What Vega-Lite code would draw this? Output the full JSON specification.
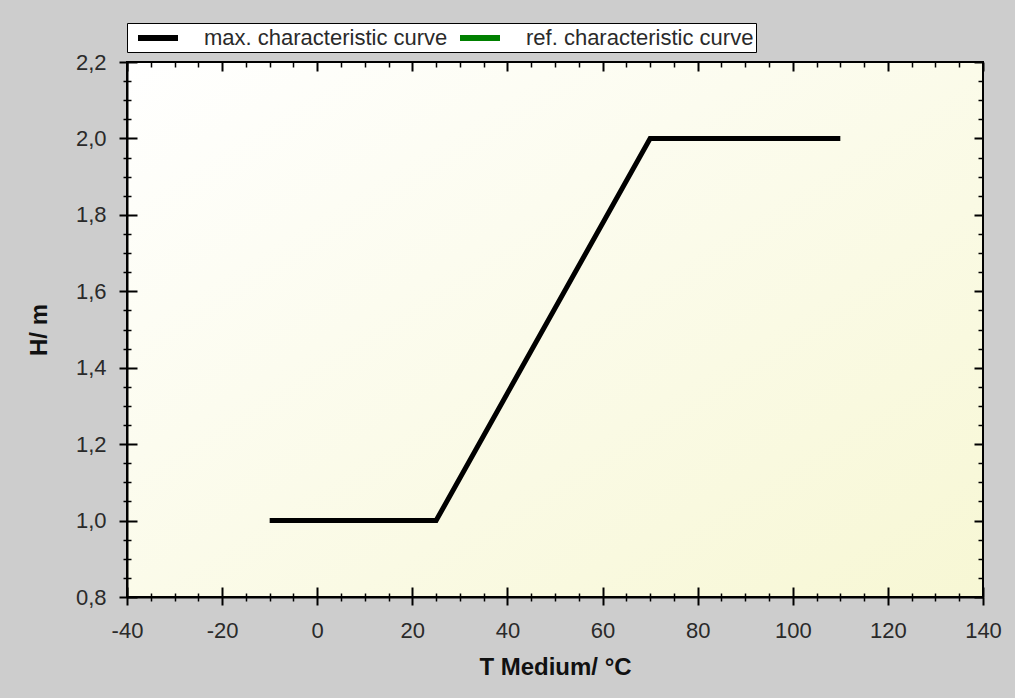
{
  "$schema": "https://vega.github.io/schema/vega-lite/v6.json",
  "autosize": {"type": "none"},
  "width": 856,
  "height": 535,
  "padding": {"left": 127, "top": 62, "right": 32, "bottom": 101},
  "background": "#cdcdcd",
  "data": {
    "values": [
      {"series": "max. characteristic curve", "T": -10, "H": 1.0},
      {"series": "max. characteristic curve", "T": 25, "H": 1.0},
      {"series": "max. characteristic curve", "T": 70, "H": 2.0},
      {"series": "max. characteristic curve", "T": 110, "H": 2.0}
    ]
  },
  "layer": [
    {
      "mark": {"type": "line", "strokeWidth": 5, "strokeCap": "butt"},
      "encoding": {
        "x": {
          "field": "T", "type": "quantitative",
          "scale": {"domain": [-40, 140], "nice": false, "zero": false},
          "axis": {
            "orient": "bottom", "title": "T Medium/ °C",
            "values": [-40,-35,-30,-25,-20,-15,-10,-5,0,5,10,15,20,25,30,35,40,45,50,55,60,65,70,75,80,85,90,95,100,105,110,115,120,125,130,135,140],
            "labelExpr": "datum.value % 20 == 0 ? toString(datum.value) : ''",
            "tickSize": {"condition": {"test": "datum.value % 20 == 0", "value": 8}, "value": 4},
            "tickWidth": {"condition": {"test": "datum.value % 20 == 0", "value": 2}, "value": 1.5},
            "labelPadding": 15, "titlePadding": 14
          }
        },
        "y": {
          "field": "H", "type": "quantitative",
          "scale": {"domain": [0.8, 2.2], "nice": false, "zero": false},
          "axis": {
            "orient": "left", "title": "H/ m",
            "values": [0.8,0.85,0.9,0.95,1.0,1.05,1.1,1.15,1.2,1.25,1.3,1.35,1.4,1.45,1.5,1.55,1.6,1.65,1.7,1.75,1.8,1.85,1.9,1.95,2.0,2.05,2.1,2.15,2.2],
            "labelExpr": "round(datum.value*100) % 20 == 0 ? replace(format(datum.value, '.1f'), '.', ',') : ''",
            "tickSize": {"condition": {"test": "round(datum.value*100) % 20 == 0", "value": 8}, "value": 4},
            "tickWidth": {"condition": {"test": "round(datum.value*100) % 20 == 0", "value": 2}, "value": 1.5},
            "labelPadding": 13, "titlePadding": 24
          }
        },
        "color": {
          "field": "series", "type": "nominal",
          "scale": {"domain": ["max. characteristic curve", "ref. characteristic curve"], "range": ["#000000", "#008000"]},
          "legend": {
            "orient": "none", "legendX": 0, "legendY": -39, "direction": "horizontal", "title": null,
            "fillColor": "#ffffff", "strokeColor": "#000000", "padding": 2,
            "symbolType": "M-2,0H2", "symbolStrokeWidth": 6, "symbolSize": 400, "symbolOffset": 16,
            "labelFontSize": 22, "labelFont": "Liberation Sans", "labelColor": "#2a2a2a", "labelLimit": 500,
            "columnPadding": 0, "labelOffset": 33
          }
        }
      }
    },
    {
      "mark": {"type": "line", "strokeOpacity": 0},
      "encoding": {
        "x": {
          "field": "T", "type": "quantitative",
          "axis": {
            "orient": "bottom", "title": null, "labels": false, "domain": false,
            "values": [-40,-35,-30,-25,-20,-15,-10,-5,0,5,10,15,20,25,30,35,40,45,50,55,60,65,70,75,80,85,90,95,100,105,110,115,120,125,130,135,140],
            "tickSize": {"condition": {"test": "datum.value % 20 == 0", "value": -10}, "value": -4},
            "tickWidth": {"condition": {"test": "datum.value % 20 == 0", "value": 2}, "value": 1.5}
          }
        },
        "y": {
          "field": "H", "type": "quantitative",
          "axis": {
            "orient": "left", "title": null, "labels": false, "domain": false,
            "values": [0.8,0.85,0.9,0.95,1.0,1.05,1.1,1.15,1.2,1.25,1.3,1.35,1.4,1.45,1.5,1.55,1.6,1.65,1.7,1.75,1.8,1.85,1.9,1.95,2.0,2.05,2.1,2.15,2.2],
            "tickSize": {"condition": {"test": "round(datum.value*100) % 20 == 0", "value": -10}, "value": -4},
            "tickWidth": {"condition": {"test": "round(datum.value*100) % 20 == 0", "value": 2}, "value": 1.5}
          }
        }
      }
    },
    {
      "mark": {"type": "line", "strokeOpacity": 0},
      "encoding": {
        "x": {
          "field": "T", "type": "quantitative",
          "axis": {
            "orient": "top", "title": null, "labels": false, "domain": false,
            "values": [-40,-35,-30,-25,-20,-15,-10,-5,0,5,10,15,20,25,30,35,40,45,50,55,60,65,70,75,80,85,90,95,100,105,110,115,120,125,130,135,140],
            "tickSize": {"condition": {"test": "datum.value % 20 == 0", "value": -9}, "value": -5},
            "tickWidth": {"condition": {"test": "datum.value % 20 == 0", "value": 2}, "value": 1.5}
          }
        },
        "y": {
          "field": "H", "type": "quantitative",
          "axis": {
            "orient": "right", "title": null, "labels": false, "domain": false,
            "values": [0.8,0.85,0.9,0.95,1.0,1.05,1.1,1.15,1.2,1.25,1.3,1.35,1.4,1.45,1.5,1.55,1.6,1.65,1.7,1.75,1.8,1.85,1.9,1.95,2.0,2.05,2.1,2.15,2.2],
            "tickSize": {"condition": {"test": "round(datum.value*100) % 20 == 0", "value": -9}, "value": -5},
            "tickWidth": {"condition": {"test": "round(datum.value*100) % 20 == 0", "value": 2}, "value": 1.5}
          }
        }
      }
    }
  ],
  "resolve": {"axis": {"x": "independent", "y": "independent"}},
  "config": {
    "view": {
      "stroke": "#000000",
      "strokeWidth": 2,
      "fill": {
        "gradient": "linear", "x1": 0, "y1": 0, "x2": 1, "y2": 1,
        "stops": [{"offset": 0, "color": "#ffffff"}, {"offset": 1, "color": "#f7f7d4"}]
      }
    },
    "axis": {
      "domainColor": "#000000", "domainWidth": 2, "tickColor": "#000000",
      "grid": false,
      "labelFont": "Liberation Sans", "labelFontSize": 22, "labelColor": "#2a2a2a",
      "labelOverlap": false, "labelBound": false, "labelFlush": false,
      "titleFont": "Liberation Sans", "titleFontSize": 24, "titleFontWeight": "bold", "titleColor": "#111111"
    }
  }
}
